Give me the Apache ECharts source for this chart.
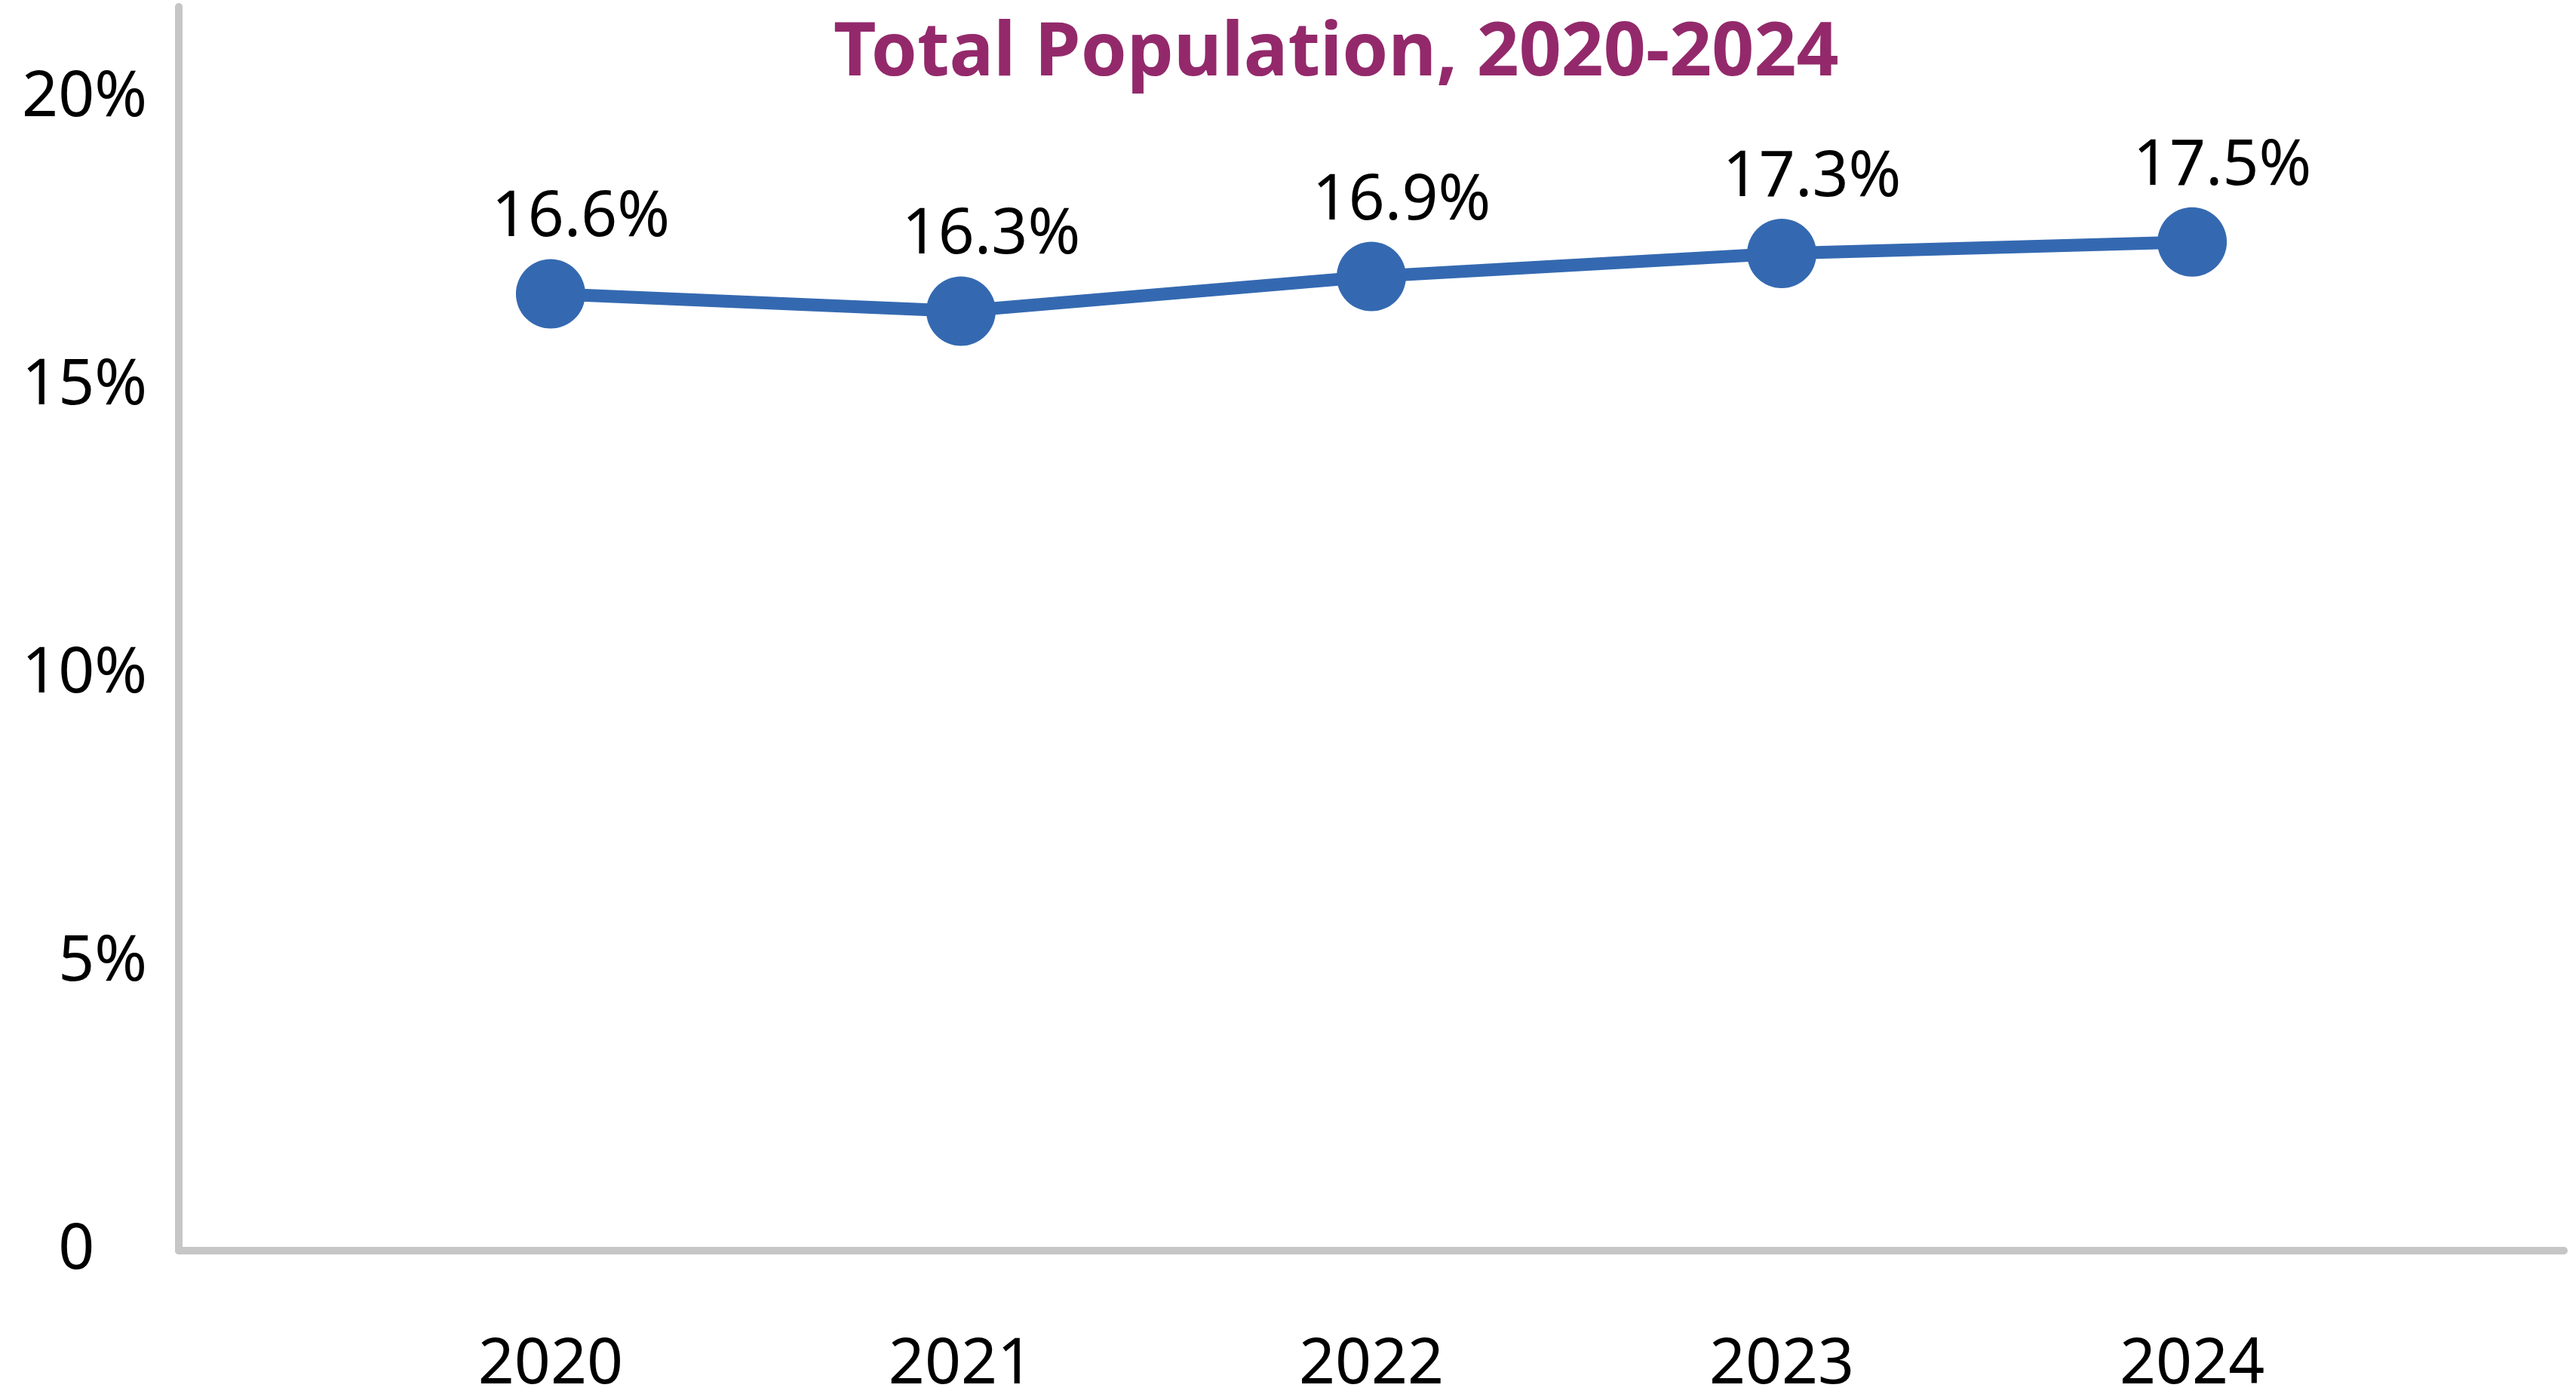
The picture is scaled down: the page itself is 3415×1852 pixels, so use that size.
<!DOCTYPE html>
<html>
<head>
<meta charset="utf-8">
<script src="https://cdn.jsdelivr.net/npm/echarts@6/dist/echarts.min.js"></script>
<style>
html,body{margin:0;padding:0;background:#fff;}
#chart{width:3415px;height:1852px;}
</style>
</head>
<body>
<div id="chart"></div>
<script>
var titleText = 'Total Population, 2020-2024';
var years = [2020, 2021, 2022, 2023, 2024];
var values = [16.6, 16.3, 16.9, 17.3, 17.5];
var yTicks = [0, 5, 10, 15, 20];

var chart = echarts.init(document.getElementById('chart'), null, {renderer: 'canvas'});
var FONT = 'Noto Sans';
var seriesData = years.map(function (y, i) { return [y, values[i]]; });

chart.setOption({
  backgroundColor: '#ffffff',
  animation: false,
  title: {
    text: titleText,
    left: 1100,
    top: 18,
    textStyle: {fontFamily: FONT, fontWeight: 'bold', fontSize: 98, color: '#93296B'}
  },
  grid: {left: 237, right: 16, top: 9, bottom: 189, containLabel: false},
  xAxis: {
    type: 'value',
    min: years[0] - 0.906,
    max: years[years.length - 1] + 0.906,
    splitLine: {show: false},
    axisTick: {show: false},
    axisLine: {show: true, onZero: false, lineStyle: {color: '#c6c6c6', width: 10}},
    axisLabel: {
      customValues: years,
      margin: 110,
      fontFamily: FONT, fontSize: 84, color: '#000',
      formatter: function (v) { return String(Math.round(v)); }
    }
  },
  yAxis: {
    type: 'value',
    min: 0,
    max: 21.58,
    splitLine: {show: false},
    axisTick: {show: false},
    axisLine: {show: true, lineStyle: {color: '#c6c6c6', width: 10}},
    axisLabel: {
      customValues: yTicks,
      margin: 42,
      fontFamily: FONT, fontSize: 84, color: '#000',
      formatter: function (v) { return v === 0 ? '0{h|%}' : v + '%'; },
      rich: {h: {fontFamily: FONT, fontSize: 84, color: 'rgba(0,0,0,0)'}}
    }
  },
  series: [{
    type: 'line',
    data: seriesData,
    symbol: 'circle',
    symbolSize: 92,
    lineStyle: {color: '#3469B1', width: 17},
    itemStyle: {color: '#3469B1'},
    label: {
      show: true,
      position: 'top',
      distance: 12,
      offset: [40, 0],
      fontFamily: FONT, fontSize: 84, color: '#000',
      formatter: function (p) { return p.value[1].toFixed(1) + '%'; }
    },
    z: 3
  }]
});
</script>
</body>
</html>
